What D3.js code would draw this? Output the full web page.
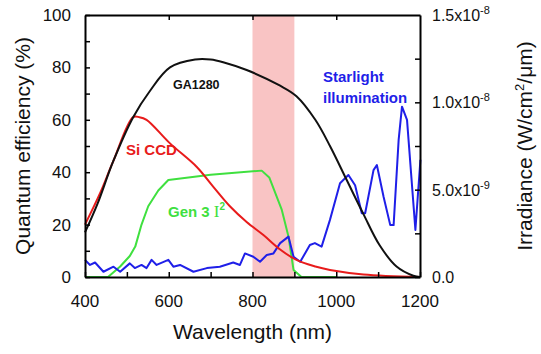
<!DOCTYPE html>
<html>
<head>
<meta charset="utf-8">
<script src="https://cdn.jsdelivr.net/npm/d3@7"></script>
<style>
  body { margin: 0; background: #fff; }
  text { font-family: "Liberation Sans", Arial, sans-serif; }
</style>
</head>
<body>
<div id="chart"></div>
<script>
// quantum efficiency curves (%)
const ga1280Wl = [400, 430, 467, 515, 555, 603, 663, 700, 730, 786, 866, 905, 950, 985, 1025, 1065, 1104, 1144, 1184, 1200];
const ga1280Qe = [17, 28, 44, 61, 71, 80, 83, 83, 82, 79, 73, 69, 60, 50, 37, 24, 12, 4, 0.5, 0];

const siCcdWl = [400, 436, 467, 515, 530, 547, 603, 667, 706, 746, 786, 826, 866, 905, 950, 985, 1065, 1200];
const siCcdQe = [20, 32, 44, 61, 61, 60, 51, 42, 34.5, 27, 21, 16, 10.5, 6.5, 4, 2.7, 1, 0];

const gen3Wl = [400, 455, 484, 507, 520, 535, 551, 575, 599, 700, 822, 840, 870, 886, 898, 917, 1000];
const gen3Qe = [0, 0, 4, 8, 11.6, 20, 27, 33, 37, 39, 40.6, 38, 25.6, 15.4, 2.7, 0, 0];

// starlight irradiance, units of 1e-9 W/cm2/um
const starWl = [400, 412, 424, 444, 468, 484, 507, 519, 535, 547, 559, 571, 599, 611, 627, 659, 691, 722, 754, 770, 782, 802, 818, 834, 850, 866, 886, 898, 914, 937, 949, 965, 985, 1009, 1029, 1045, 1061, 1069, 1089, 1097, 1113, 1129, 1137, 1149, 1157, 1169, 1189, 1201];
const starIrr = [0.98, 0.69, 0.83, 0.30, 0.59, 0.30, 0.78, 0.51, 0.69, 0.51, 0.98, 0.69, 0.98, 0.59, 0.69, 0.30, 0.51, 0.59, 0.83, 0.69, 1.35, 1.16, 0.87, 1.26, 1.35, 1.94, 2.31, 1.16, 0.87, 1.83, 1.94, 1.74, 3.27, 5.37, 5.84, 5.25, 3.65, 3.65, 6.12, 6.41, 4.59, 2.97, 2.97, 7.85, 9.75, 9.0, 2.69, 6.71];

const xTicks = [400, 600, 800, 1000, 1200];
const qeTicks = [0, 20, 40, 60, 80, 100];
const irrTicks = [0, 5e-9, 1e-8, 1.5e-8];
const irrLabels = [["0.0", ""], ["5.0x10", "-9"], ["1.0x10", "-8"], ["1.5x10", "-8"]];
const band = [800, 900];

function draw() {
  const width = 541, height = 354;
  const margin = { top: 15, right: 121, bottom: 77, left: 85 };

  const svg = d3.select("#chart").append("svg")
    .attr("width", width)
    .attr("height", height);

  const x = d3.scaleLinear([400, 1200], [margin.left, width - margin.right]);
  const y = d3.scaleLinear([0, 100], [height - margin.bottom, margin.top]);
  const yR = d3.scaleLinear([0, 1.5e-8], [height - margin.bottom, margin.top]);

  // highlighted band
  svg.append("rect")
    .attr("x", x(band[0]))
    .attr("y", margin.top)
    .attr("width", x(band[1]) - x(band[0]))
    .attr("height", y(0) - y(100))
    .attr("fill", "#f9c4c4");

  const smooth = d3.line().x(d => x(d[0])).y(d => y(d[1])).curve(d3.curveCatmullRom);
  const line = d3.line().x(d => x(d[0])).y(d => y(d[1]));
  const lineR = d3.line().x(d => x(d[0])).y(d => yR(d[1] * 1e-9));

  const plot = svg.append("g").attr("fill", "none").attr("stroke-width", 2).attr("stroke-linejoin", "round");

  plot.append("path").datum(d3.zip(gen3Wl, gen3Qe)).attr("stroke", "#3fe03f").attr("d", line);
  plot.append("path").datum(d3.zip(starWl, starIrr)).attr("stroke", "#1f1fe8").attr("d", lineR);
  plot.append("path").datum(d3.zip(siCcdWl, siCcdQe)).attr("stroke", "#e81b1b").attr("d", smooth);
  plot.append("path").datum(d3.zip(ga1280Wl, ga1280Qe)).attr("stroke", "#111").attr("d", smooth);

  // axes, ticks inside
  const axBottom = svg.append("g")
    .attr("transform", `translate(0,${y(0)})`)
    .call(d3.axisBottom(x).tickValues(d3.range(400, 1201, 100)).tickSizeInner(-5).tickSizeOuter(0).tickFormat(""));
  const axTop = svg.append("g")
    .attr("transform", `translate(0,${y(100)})`)
    .call(d3.axisTop(x).tickValues([600, 800, 1000]).tickSizeInner(-5).tickSizeOuter(0).tickFormat(""));
  const axLeft = svg.append("g")
    .attr("transform", `translate(${x(400)},0)`)
    .call(d3.axisLeft(y).tickValues(d3.range(0, 101, 10)).tickSizeInner(-5).tickSizeOuter(0).tickFormat(""));
  const axRight = svg.append("g")
    .attr("transform", `translate(${x(1200)},0)`)
    .call(d3.axisRight(yR).tickValues(d3.range(0, 6).map(i => i * 2.5e-9)).tickSizeInner(-5).tickSizeOuter(0).tickFormat(""));

  [axBottom, axTop, axLeft, axRight].forEach(g => {
    g.select(".domain").attr("stroke", "#000").attr("stroke-width", 2);
    g.selectAll(".tick line").attr("stroke", "#000").attr("stroke-width", 1.5);
  });

  // tick labels
  svg.append("g").selectAll("text").data(xTicks).join("text")
    .attr("x", d => x(d)).attr("y", y(0) + 30)
    .attr("text-anchor", "middle").attr("font-size", 17).attr("fill", "#111")
    .text(d => d);

  svg.append("g").selectAll("text").data(qeTicks).join("text")
    .attr("x", x(400) - 14).attr("y", d => y(d) + 6)
    .attr("text-anchor", "end").attr("font-size", 17).attr("fill", "#111")
    .text(d => d);

  const rl = svg.append("g").selectAll("text").data(irrTicks).join("text")
    .attr("x", x(1200) + 12).attr("y", d => yR(d) + 6)
    .attr("font-size", 16).attr("fill", "#111");
  rl.append("tspan").text((d, i) => irrLabels[i][0]);
  rl.append("tspan").attr("font-size", 11).attr("dy", -7).text((d, i) => irrLabels[i][1]);

  // axis titles
  svg.append("text")
    .attr("x", (x(400) + x(1200)) / 2).attr("y", 339)
    .attr("text-anchor", "middle").attr("font-size", 21).attr("fill", "#111")
    .text("Wavelength (nm)");

  svg.append("text")
    .attr("transform", `translate(30,${(y(0) + y(100)) / 2}) rotate(-90)`)
    .attr("text-anchor", "middle").attr("font-size", 21).attr("fill", "#111")
    .text("Quantum efficiency (%)");

  const rt = svg.append("text")
    .attr("transform", `translate(532,${(y(0) + y(100)) / 2}) rotate(-90)`)
    .attr("text-anchor", "middle").attr("font-size", 21).attr("fill", "#111");
  rt.append("tspan").text("Irradiance (W/cm");
  rt.append("tspan").attr("font-size", 13).attr("dy", -8).text("2");
  rt.append("tspan").attr("dy", 8).text("/\u03bcm)");

  // curve labels
  svg.append("text").attr("x", 173).attr("y", 89)
    .attr("font-size", 12.5).attr("font-weight", "bold").attr("fill", "#111").text("GA1280");
  svg.append("text").attr("x", 126).attr("y", 155)
    .attr("font-size", 15).attr("font-weight", "bold").attr("fill", "#e81b1b").text("Si CCD");
  const g3 = svg.append("text").attr("x", 168).attr("y", 217)
    .attr("font-size", 15).attr("font-weight", "bold").attr("fill", "#3fe03f");
  g3.append("tspan").text("Gen 3 ");
  g3.append("tspan").attr("font-family", "Liberation Serif, serif").attr("font-weight", "normal").attr("font-size", 17).text("I");
  g3.append("tspan").attr("font-size", 10).attr("dy", -7).text("2");
  svg.append("text").attr("x", 323).attr("y", 82)
    .attr("font-size", 15).attr("font-weight", "bold").attr("fill", "#1f1fe8").text("Starlight");
  svg.append("text").attr("x", 323).attr("y", 103)
    .attr("font-size", 15).attr("font-weight", "bold").attr("fill", "#1f1fe8").text("illumination");
}

draw();
</script>
</body>
</html>
